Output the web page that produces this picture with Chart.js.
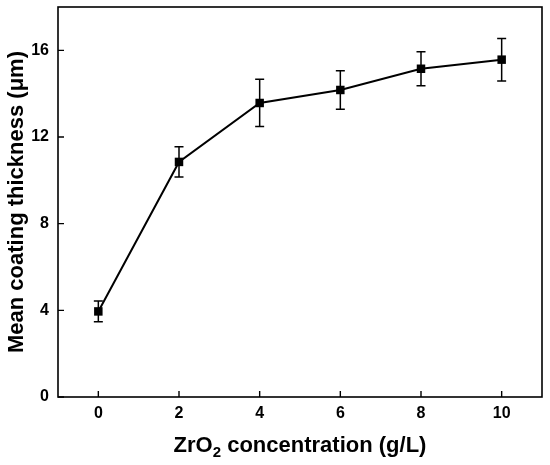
<!doctype html>
<html lang="en">
<head>
  <meta charset="utf-8" />
  <title>Mean coating thickness vs ZrO2 concentration</title>
  <script src="https://cdn.jsdelivr.net/npm/chart.js@4.4.1/dist/chart.umd.min.js"></script>
  <style>
    *{box-sizing:border-box;margin:0;padding:0}
    html,body{background:#fff}
    #wrap{width:550px;height:465px;position:relative}
  </style>
</head>
<body>
  <div id="wrap"><canvas id="c" width="550" height="465"></canvas></div>

  <script>
    /* ===== data ===== */
    const concentration = [0, 2, 4, 6, 8, 10];            // g/L
    const thickness     = [3.95, 10.85, 13.57, 14.17, 15.15, 15.57]; // µm
    const thicknessErr  = [0.48, 0.7, 1.09, 0.89, 0.79, 0.98];
    const xTicks = [0, 2, 4, 6, 8, 10];
    const yTicks = [0, 4, 8, 12, 16];

    const FONT = '"Liberation Sans", Arial, sans-serif';

    /* error bars, frame, inward ticks, axis titles */
    const decorations = {
      id: 'decorations',
      beforeDatasetsDraw(chart){
        const {ctx, scales:{x, y}} = chart;
        ctx.save();
        ctx.strokeStyle = '#000';
        ctx.lineWidth = 1.5;
        concentration.forEach((c, i) => {
          const px = x.getPixelForValue(c);
          const top = y.getPixelForValue(thickness[i] + thicknessErr[i]);
          const bot = y.getPixelForValue(thickness[i] - thicknessErr[i]);
          ctx.beginPath();
          ctx.moveTo(px, top); ctx.lineTo(px, bot);
          ctx.moveTo(px - 4.5, top); ctx.lineTo(px + 4.5, top);
          ctx.moveTo(px - 4.5, bot); ctx.lineTo(px + 4.5, bot);
          ctx.stroke();
        });
        ctx.restore();
      },
      afterDraw(chart){
        const {ctx, chartArea:a, scales:{x, y}} = chart;
        ctx.save();
        ctx.strokeStyle = '#000';
        ctx.lineWidth = 1.6;
        ctx.strokeRect(a.left, a.top, a.right - a.left, a.bottom - a.top);

        // inward tick marks
        ctx.lineWidth = 1.4;
        ctx.beginPath();
        xTicks.forEach(v => {
          const px = x.getPixelForValue(v);
          ctx.moveTo(px, a.bottom); ctx.lineTo(px, a.bottom - 6);
        });
        yTicks.forEach(v => {
          const py = y.getPixelForValue(v);
          ctx.moveTo(a.left, py); ctx.lineTo(a.left + 6, py);
        });
        ctx.stroke();

        // axis titles
        ctx.fillStyle = '#000';
        ctx.textBaseline = 'alphabetic';

        const cx = (a.left + a.right) / 2;
        const p1 = 'ZrO', p2 = '2', p3 = ' concentration (g/L)';
        ctx.font = `bold 22px ${FONT}`;
        const w1 = ctx.measureText(p1).width, w3 = ctx.measureText(p3).width;
        ctx.font = `bold 15px ${FONT}`;
        const w2 = ctx.measureText(p2).width;
        const sx = cx - (w1 + w2 + w3) / 2;
        const base = 452;
        ctx.textAlign = 'left';
        ctx.font = `bold 22px ${FONT}`;
        ctx.fillText(p1, sx, base);
        ctx.font = `bold 15px ${FONT}`;
        ctx.fillText(p2, sx + w1, base + 5);
        ctx.font = `bold 22px ${FONT}`;
        ctx.fillText(p3, sx + w1 + w2, base);

        ctx.translate(23, (a.top + a.bottom) / 2);
        ctx.rotate(-Math.PI / 2);
        ctx.textAlign = 'center';
        ctx.fillText('Mean coating thickness (μm)', 0, 0);
        ctx.restore();
      }
    };

    const noPad = s => { s.paddingTop = 0; s.paddingBottom = 0; s.paddingLeft = 0; s.paddingRight = 0; };

    new Chart(document.getElementById('c'), {
      type: 'line',
      data: {
        datasets: [{
          data: concentration.map((c, i) => ({x: c, y: thickness[i]})),
          borderColor: '#000',
          borderWidth: 2,
          backgroundColor: '#000',
          pointStyle: 'rect',
          pointRadius: 6,
          pointBorderWidth: 0,
          pointBackgroundColor: '#000',
          tension: 0
        }]
      },
      options: {
        responsive: false,
        animation: false,
        devicePixelRatio: 1,
        layout: {padding: {top: 7, right: 8, left: 0, bottom: 0}},
        plugins: {legend: {display: false}, tooltip: {enabled: false}},
        scales: {
          x: {
            type: 'linear', min: -1, max: 11,
            grid: {display: false, drawTicks: false}, border: {display: false},
            afterBuildTicks: s => { s.ticks = xTicks.map(v => ({value: v})); },
            afterFit: s => { s.height = 68; noPad(s); },
            ticks: {color: '#000', padding: 7, maxRotation: 0,
                    font: {family: FONT, size: 16, weight: 'bold'}}
          },
          y: {
            min: 0, max: 18,
            grid: {display: false, drawTicks: false}, border: {display: false},
            afterBuildTicks: s => { s.ticks = yTicks.map(v => ({value: v})); },
            afterFit: s => { s.width = 58; noPad(s); },
            ticks: {color: '#000', padding: 9,
                    font: {family: FONT, size: 16, weight: 'bold'}}
          }
        }
      },
      plugins: [decorations]
    });
  </script>
</body>
</html>
